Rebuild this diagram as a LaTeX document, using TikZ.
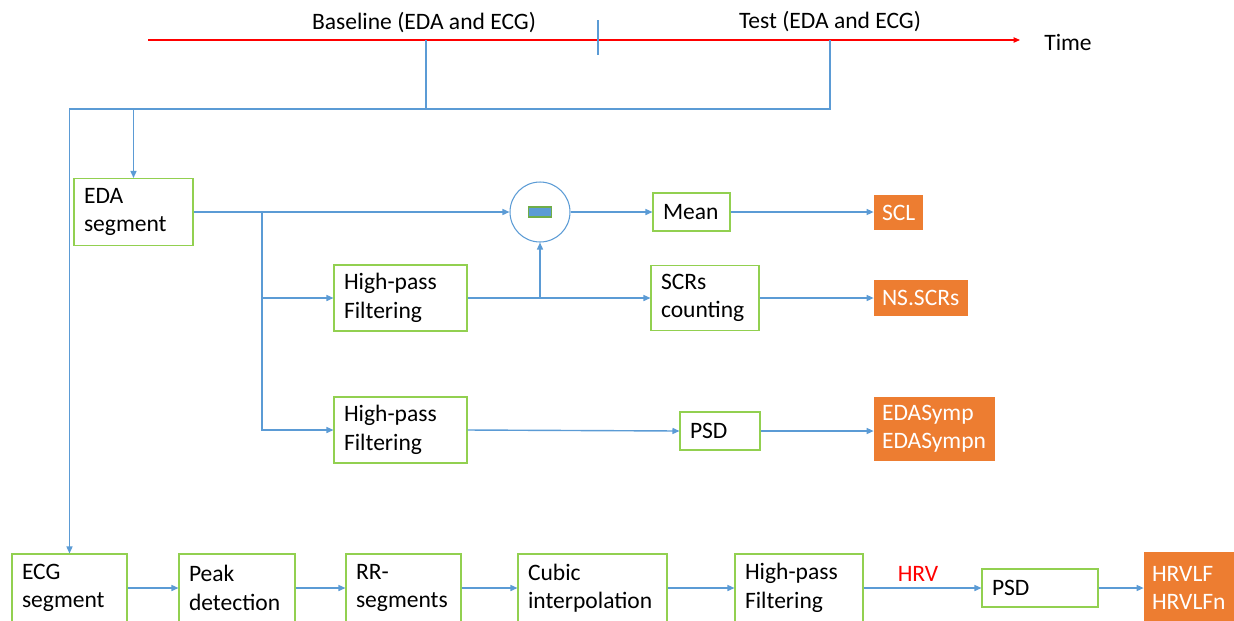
\documentclass[tikz,border=0pt]{standalone}
\usepackage{fontspec}
\setmainfont{Carlito}
\usetikzlibrary{arrows.meta,calc}
\definecolor{lblue}{RGB}{91,155,213}
\definecolor{gbord}{RGB}{146,208,80}
\definecolor{orng}{RGB}{237,125,49}
\definecolor{rgreen}{RGB}{112,173,71}
\tikzset{
  gbox/.style={draw=gbord, line width=0.6pt, inner xsep=0.2cm, inner ysep=0pt, align=left, font=\fontsize{13.4}{16.2}\selectfont},
  obox/.style={fill=orng, text=white, inner xsep=0.16cm, inner ysep=0pt, align=left, font=\fontsize{13.4}{16.2}\selectfont},
  conn/.style={draw=lblue, line width=0.8pt},
  arr/.style={conn, -{Triangle[length=0.14cm,width=0.12cm]}},
  lbl/.style={font=\fontsize{13.4}{16.2}\selectfont, inner sep=0pt}
}
\begin{document}
\begin{tikzpicture}[x=0.02cm,y=-0.02cm]
\useasboundingbox (0,0) rectangle (1234,620);
\clip (0,0) rectangle (1234,620);
% timeline
\coordinate (t0) at (148,40);
\coordinate (t1) at (1020,40);
\draw[red, line width=0.6pt, -{Triangle[length=0.13cm,width=0.11cm]}] (t0) -- (t1);
\coordinate (tk0) at (598,20);
\coordinate (tk1) at (598,55);
\draw[conn, line width=0.6pt] (tk0) -- (tk1);
\node[lbl] (baseline) at (424,23) {Baseline (EDA and ECG)};
\node[lbl] (test) at (830,22) {Test (EDA and ECG)};
\node[lbl] (time) at (1068,42) {Time};
% EDA part
\node[gbox, minimum width=2.38cm, minimum height=1.34cm, text width=1.98cm] (eda) at (133.5,212) {EDA\\segment};
\node[draw=lblue, line width=0.6pt, circle, minimum size=1.2cm, inner sep=0pt] (circ) at (540,212) {};
\node[draw=rgreen, fill=lblue, line width=0.6pt, minimum width=0.46cm, minimum height=0.2cm, inner sep=0pt] (minus) at (540,212) {};
\node[gbox, minimum width=1.54cm, minimum height=0.76cm, text width=1.14cm] (mean) at (691.5,212) {Mean};
\node[obox, minimum width=0.98cm, minimum height=0.70cm, text width=0.66cm] (scl) at (898.5,212.5) {SCL};
\node[gbox, minimum width=2.66cm, minimum height=1.32cm, text width=2.26cm] (hp1) at (400.5,298) {High-pass\\Filtering};
\node[gbox, minimum width=2.16cm, minimum height=1.30cm, text width=1.76cm] (scr) at (705,298) {SCRs\\counting};
\node[obox, minimum width=1.88cm, minimum height=0.72cm, text width=1.56cm] (ns) at (921,298) {NS.SCRs};
\node[gbox, minimum width=2.66cm, minimum height=1.32cm, text width=2.26cm] (hp2) at (400.5,430) {High-pass\\Filtering};
\node[gbox, minimum width=1.6cm, minimum height=0.76cm, text width=1.2cm] (psd1) at (720,431) {PSD};
\node[obox, minimum width=2.42cm, minimum height=1.28cm, text width=2.10cm] (edas) at (934.5,429) {EDASymp\\EDASympn};
% ECG row
\node[gbox, minimum width=2.30cm, minimum height=1.36cm, text width=1.90cm] (ecg) at (69.5,588) {ECG\\segment};
\node[gbox, minimum width=2.32cm, minimum height=1.36cm, text width=1.92cm] (peak) at (237,588) {Peak\\detection};
\node[gbox, minimum width=2.30cm, minimum height=1.36cm, text width=1.90cm] (rr) at (403.5,588) {RR-\\segments};
\node[gbox, minimum width=2.98cm, minimum height=1.36cm, text width=2.58cm] (cubic) at (592.5,588) {Cubic\\interpolation};
\node[gbox, minimum width=2.56cm, minimum height=1.36cm, text width=2.16cm] (hp3) at (799,588) {High-pass\\Filtering};
\node[gbox, minimum width=2.32cm, minimum height=0.76cm, text width=1.92cm] (psd2) at (1040,588) {PSD};
\node[obox, minimum width=1.92cm, minimum height=1.44cm, text width=1.60cm] (hrvo) at (1192,588) {HRVLF\\HRVLFn};
\node[lbl, text=red] (hrv) at (918,574) {HRV};
% top connectors
\coordinate (tb) at (426,40);
\coordinate (tt) at (830,40);
\draw[arr] (tb) -- ++(0,69) -| (ecg.north);
\draw[arr] (tt) -- ++(0,69) -| (eda.north);
% EDA connectors
\coordinate (br) at (262,212);
\draw[arr] (eda.east) -- (circ.west);
\draw[arr] (br) |- (hp2.west);
\draw[arr] (br |- hp1.west) -- (hp1.west);
\draw[arr] (hp1.east) -- (scr.west);
\coordinate (br2) at (circ.south |- hp1.east);
\draw[arr] (br2) -- (circ.south);
\draw[arr] (circ.east) -- (mean.west);
\draw[arr] (mean.east) -- (scl.west |- mean.east);
\draw[arr] (scr.east) -- (ns.west);
\draw[arr] (hp2.east) -- (psd1.west);
\draw[arr] (psd1.east) -- (edas.west |- psd1.east);
% ECG connectors
\draw[arr] (ecg.east) -- (peak.west);
\draw[arr] (peak.east) -- (rr.west);
\draw[arr] (rr.east) -- (cubic.west);
\draw[arr] (cubic.east) -- (hp3.west);
\draw[arr] (hp3.east) -- (psd2.west);
\draw[arr] (psd2.east) -- (hrvo.west);
\end{tikzpicture}
\end{document}
